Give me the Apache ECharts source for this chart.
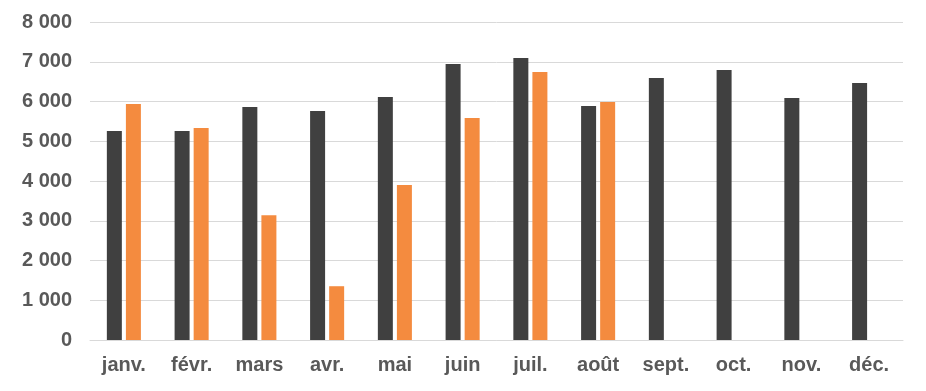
<!DOCTYPE html>
<html>
<head>
<meta charset="utf-8">
<script src="https://cdn.jsdelivr.net/npm/echarts@6/dist/echarts.min.js"></script>
<style>html,body{margin:0;padding:0;background:#fff}#c{width:926px;height:391px}</style>
</head>
<body>
<div id="c"></div>
<script>
const categories = ['janv.', 'févr.', 'mars', 'avr.', 'mai', 'juin', 'juil.', 'août', 'sept.', 'oct.', 'nov.', 'déc.'];
const seriesDark = [5257, 5257, 5860, 5760, 6114, 6945, 7096, 5884, 6592, 6793, 6088, 6466];
const seriesOrange = [5935, 5335, 3141, 1353, 3897, 5584, 6743, 5985, null, null, null, null];
const yTicks = [0, 1000, 2000, 3000, 4000, 5000, 6000, 7000, 8000];

const chart = echarts.init(document.getElementById('c'), null, {renderer: 'canvas'});
const fmt = v => String(v).replace(/\B(?=(\d{3})+(?!\d))/g, ' ');
chart.setOption({
  animation: false,
  grid: {left: 90, right: 23, top: 22, bottom: 51, containLabel: false},
  xAxis: {
    type: 'category',
    data: categories,
    axisLine: {show: true, lineStyle: {color: '#d9d9d9', width: 1}},
    axisTick: {show: false},
    axisLabel: {color: '#595959', fontFamily: 'Liberation Sans, Arial, sans-serif', fontWeight: 'bold', fontSize: 20, margin: 15}
  },
  yAxis: {
    type: 'value',
    min: yTicks[0],
    max: yTicks[yTicks.length - 1],
    interval: 1000,
    axisLine: {show: false},
    axisTick: {show: false},
    splitLine: {lineStyle: {color: '#d9d9d9', width: 1}},
    axisLabel: {color: '#595959', fontFamily: 'Liberation Sans, Arial, sans-serif', fontWeight: 'bold', fontSize: 20, margin: 18, formatter: fmt}
  },
  series: [
    {type: 'bar', data: seriesDark, barWidth: 15, barGap: '27%', itemStyle: {color: '#404040'}},
    {type: 'bar', data: seriesOrange, barWidth: 15, itemStyle: {color: '#F48B3F'}}
  ]
});
</script>
</body>
</html>
